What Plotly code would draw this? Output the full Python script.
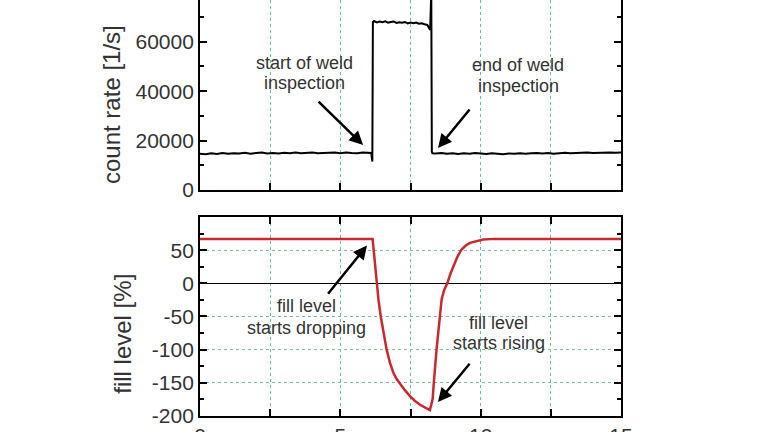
import plotly.graph_objects as go

# ---------------- data ----------------
# count rate (top panel)
base_t = [0.0, 0.2, 0.4, 0.6, 0.8, 1.0, 1.2, 1.4, 1.6, 1.8, 2.0, 2.2, 2.4, 2.6, 2.8, 3.0,
          3.2, 3.4, 3.6, 3.8, 4.0, 4.2, 4.4, 4.6, 4.8, 5.0, 5.2, 5.4, 5.6, 5.8, 6.0, 6.1]
base_c = [14700, 14500, 14900, 14600, 15000, 14700, 14900, 14800, 15100, 14700, 15000, 15200,
          14800, 15000, 14750, 15100, 14900, 15200, 14850, 15000, 15150, 14850, 15050, 14950,
          15150, 14900, 15200, 15000, 14850, 15150, 15200, 15000]
edge_t = [6.14, 6.16]
edge_c = [11500, 68000]
plat_t = [6.2, 6.3, 6.4, 6.5, 6.6, 6.7, 6.8, 6.9, 7.0, 7.1, 7.2, 7.3, 7.4, 7.5, 7.6, 7.7,
          7.8, 7.9, 8.0, 8.1, 8.2]
plat_c = [68400, 67800, 68200, 67900, 68300, 67700, 68000, 68200, 67600, 67900, 67700, 68000,
          67400, 67800, 67500, 67800, 67300, 67500, 67100, 66800, 64800]
end_t = [8.24, 8.26, 8.28]
end_c = [80000, 15500, 14900]
tail_t = [8.4, 8.6, 8.8, 9.0, 9.2, 9.4, 9.6, 9.8, 10.0, 10.2, 10.4, 10.6, 10.8, 11.0, 11.2,
          11.4, 11.6, 11.8, 12.0, 12.2, 12.4, 12.6, 12.8, 13.0, 13.2, 13.4, 13.6, 13.8, 14.0,
          14.2, 14.4, 14.6, 14.8, 15.0]
tail_c = [14800, 15000, 14700, 14900, 14600, 14850, 14700, 14950, 14800, 14600, 14900, 14700,
          14500, 14800, 14650, 14900, 14700, 14850, 15000, 14800, 14950, 14700, 14900, 15100,
          14850, 15000, 14900, 15150, 14950, 15100, 15000, 15200, 15050, 15200]

count_time = base_t + edge_t + plat_t + end_t + tail_t
count_rate = base_c + edge_c + plat_c + end_c + tail_c

# fill level (bottom panel)
fill_time = [0.0, 6.15, 6.2, 6.25, 6.29, 6.36, 6.44, 6.54, 6.65, 6.77, 6.89, 7.0, 7.1, 7.3,
             7.48, 7.65, 7.84, 8.0, 8.19,
             8.24, 8.29, 8.33, 8.37, 8.43, 8.49, 8.55, 8.61, 8.7, 8.81, 8.92, 9.03, 9.17,
             9.32, 9.47, 9.62, 9.85, 10.09, 10.5, 15.0]
fill_level = [67, 67, 45, 20, 0, -25, -50, -75, -100, -120, -135, -144, -150, -161,
              -170, -177, -183, -187, -191,
              -183, -174, -150, -124, -99, -74, -49, -24, -10, 0, 14, 26, 40,
              51, 57, 61, 64, 66, 67, 67]

x_ticks = [0, 2.5, 5, 7.5, 10, 12.5, 15]
x_ticktext = ["0", "", "5", "", "10", "", "15"]
top_yticks = [0, 20000, 40000, 60000]
top_yticktext = ["0", "20000", "40000", "60000"]
bot_yticks = [-200, -150, -100, -50, 0, 50]
bot_yticktext = ["-200", "-150", "-100", "-50", "0", "50"]

# annotation texts (one entry per line): text, axis, x, y
note_lines = [
    ("start of weld", "top", 3.74, 51400),
    ("inspection", "top", 3.74, 43300),
    ("end of weld", "top", 11.33, 50600),
    ("inspection", "top", 11.33, 42100),
    ("fill level", "bottom", 3.81, -34),
    ("starts dropping", "bottom", 3.81, -67),
    ("fill level", "bottom", 10.65, -60),
    ("starts rising", "bottom", 10.65, -90),
]
# arrows: axis, tip x, tip y, tail x, tail y
arrow_specs = [
    ("top", 5.81, 18200, 4.17, 36400),
    ("top", 8.48, 17000, 9.65, 33200),
    ("bottom", 5.95, 57, 4.52, -18),
    ("bottom", 8.48, -179, 9.65, -119),
]

# ---------------- figure ----------------
FONT = "Liberation Sans, Arial, sans-serif"
TXT = "#333333"
GRID = "#6cc494"

fig = go.Figure()
fig.add_trace(go.Scatter(x=count_time, y=count_rate, mode="lines",
                         line=dict(color="black", width=2), xaxis="x", yaxis="y",
                         showlegend=False))
fig.add_trace(go.Scatter(x=fill_time, y=fill_level, mode="lines",
                         line=dict(color="#c8282e", width=2.5),
                         xaxis="x2", yaxis="y2", showlegend=False))

axis_common = dict(showline=True, linecolor="black", linewidth=1.8, ticks="inside",
                   tickcolor="black", ticklen=7, tickwidth=1.5, zeroline=False,
                   automargin=False,
                   tickfont=dict(family=FONT, size=21, color=TXT))

fig.update_layout(
    width=768, height=432,
    margin=dict(l=200, r=147, t=0, b=16),
    paper_bgcolor="white", plot_bgcolor="white",
    font=dict(family=FONT, color=TXT),
    xaxis=dict(axis_common, domain=[0, 1], range=[0, 15], anchor="y",
               tickvals=x_ticks, showticklabels=False, mirror=False,
               showgrid=True, gridcolor=GRID, griddash="dot", gridwidth=1),
    yaxis=dict(axis_common, domain=[0.5433, 1], range=[0, 76900], anchor="x",
               tickvals=top_yticks, ticktext=top_yticktext, mirror="allticks", showgrid=False,
               minor=dict(dtick=10000, ticks="inside", ticklen=4, tickcolor="black")),
    xaxis2=dict(axis_common, domain=[0, 1], range=[0, 15], anchor="y2",
                tickvals=x_ticks, ticktext=x_ticktext, mirror="allticks",
                showgrid=True, gridcolor=GRID, griddash="dot", gridwidth=1),
    yaxis2=dict(axis_common, domain=[0, 0.4784], range=[-200, 100], anchor="x2",
                tickvals=bot_yticks, ticktext=bot_yticktext, mirror="allticks",
                showgrid=True, gridcolor="#7cbf98", griddash="dot", gridwidth=1,
                zeroline=True, zerolinecolor="black", zerolinewidth=1.3,
                minor=dict(dtick=25, ticks="inside", ticklen=4, tickcolor="black")),
)

ann_font = dict(family=FONT, size=18, color=TXT)
annotations = [
    dict(text="count rate [1/s]", xref="paper", yref="paper", x=-0.209, y=0.7476,
         textangle=-90, showarrow=False, font=dict(family=FONT, size=24, color=TXT),
         xanchor="center", yanchor="middle"),
    dict(text="fill level [%]", xref="paper", yref="paper", x=-0.186, y=0.197,
         textangle=-90, showarrow=False, font=dict(family=FONT, size=24, color=TXT),
         xanchor="center", yanchor="middle"),
]
axis_refs = {"top": ("x", "y"), "bottom": ("x2", "y2")}
for text, panel, x, y in note_lines:
    xr, yr = axis_refs[panel]
    annotations.append(dict(text=text, xref=xr, yref=yr, x=x, y=y, showarrow=False,
                            font=ann_font, xanchor="center", yanchor="middle"))
for panel, x, y, ax, ay in arrow_specs:
    xr, yr = axis_refs[panel]
    annotations.append(dict(text="", xref=xr, yref=yr, x=x, y=y, axref=xr, ayref=yr,
                            ax=ax, ay=ay, showarrow=True, arrowhead=2, arrowsize=1.1,
                            arrowwidth=2.5, arrowcolor="black", standoff=0))
fig.update_layout(annotations=annotations)

fig.write_html("out.html")
